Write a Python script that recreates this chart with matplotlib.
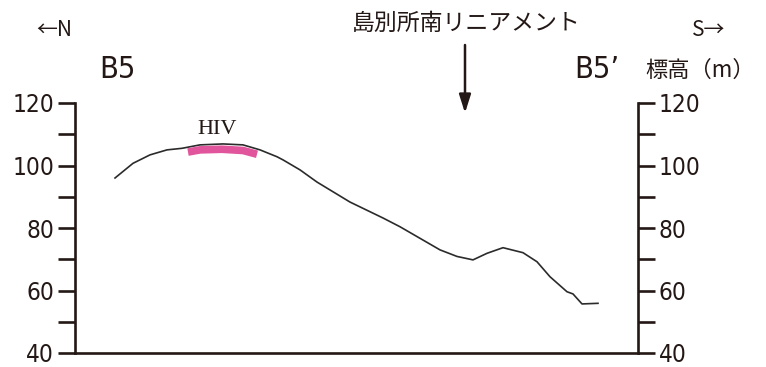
import matplotlib
matplotlib.use("Agg")
import matplotlib.pyplot as plt
from matplotlib.ticker import MultipleLocator

# profile data (distance along section, arbitrary units; elevation in m)
dist = [40, 58, 75, 92, 107, 125, 148, 168, 185, 202, 208, 225, 242, 275, 308,
        325, 345, 365, 382, 398, 412, 428, 448, 462, 475, 492, 498, 507, 523]
elev = [96.0, 100.7, 103.4, 105.0, 105.5, 106.6, 106.9, 106.6, 105.0, 102.8,
        101.8, 98.6, 94.7, 88.3, 83.2, 80.4, 76.7, 73.0, 70.9, 69.8, 71.9, 73.7,
        72.1, 69.2, 64.4, 59.6, 58.9, 55.7, 55.9]

# HIV terrace surface (pink band)
hiv_dist = [113, 125, 147, 168, 182]
hiv_elev = [104.3, 105.0, 105.2, 104.8, 103.6]

W, H = 766, 367
ink = "#231815"
cond = dict(family="DejaVu Sans", fontstretch="condensed")

fig = plt.figure(figsize=(W / 100, H / 100), dpi=100)
ax = fig.add_axes([75 / W, 14 / H, (638 - 75) / W, 250 / H])

ax.plot(dist, elev, color="#2b2b2b", lw=1.2)
ax.plot(hiv_dist, hiv_elev, color="#e0559c", lw=5.5, solid_capstyle="butt")

ax.set_xlim(0, 563)
ax.set_ylim(40, 120)
ax.set_xticks([])
ax.yaxis.set_major_locator(MultipleLocator(20))
ax.yaxis.set_minor_locator(MultipleLocator(10))
ax.tick_params(axis="y", which="both", direction="out", length=12, width=1.9,
               color=ink, left=True, right=True, labelleft=True, labelright=True,
               pad=3, labelsize=17.5, labelcolor=ink)
# condensed labels on both sides
for t in ax.yaxis.get_major_ticks():
    for lab in (t.label1, t.label2):
        lab.set_family("DejaVu Sans")
        lab.set_fontstretch("condensed")

ax.spines["top"].set_visible(False)
for s in ["left", "right", "bottom"]:
    ax.spines[s].set_color(ink)
    ax.spines[s].set_linewidth(1.9)

def fx(px):
    return px / W

def fy(py):
    return 1 - py / H

jp = ["Noto Sans CJK JP", "DejaVu Sans"]
fig.text(fx(36), fy(30), "←N", fontsize=15, family=jp, va="center", ha="left", color=ink)
fig.text(fx(692), fy(30), "S→", fontsize=15, family=jp, va="center", ha="left", color=ink)
fig.text(fx(99), fy(69), "B5", fontsize=22, va="center", ha="left", color=ink, **cond)
fig.text(fx(574), fy(69), "B5’", fontsize=22, va="center", ha="left", color=ink, **cond)
fig.text(fx(645), fy(70), "標高（m）", fontsize=16, family=jp, va="center", ha="left", color=ink)
fig.text(fx(466), fy(23), "島別所南リニアメント", fontsize=16.5, family=jp,
         va="center", ha="center", color=ink)
ax.text(142, 111.5, "HIV", fontsize=16, family=["Liberation Serif", "DejaVu Serif"],
        va="center", ha="center", color=ink)

ax.annotate("", xy=(fx(465), fy(113)), xytext=(fx(465), fy(45)),
            xycoords="figure fraction", textcoords="figure fraction",
            arrowprops=dict(arrowstyle="-|>,head_length=1.1,head_width=0.35",
                            color=ink, lw=1.8, shrinkA=0, shrinkB=0))

fig.savefig("out.png", dpi=100)
